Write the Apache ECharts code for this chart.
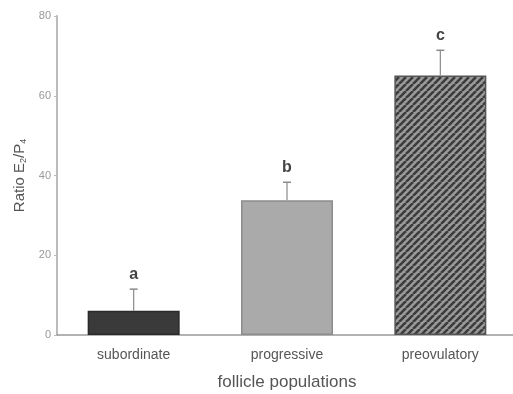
<!DOCTYPE html>
<html><head><meta charset="utf-8">
<script src="https://cdn.jsdelivr.net/npm/echarts@6/dist/echarts.min.js"></script>
<style>html,body{margin:0;padding:0;background:#fff}#c{width:513px;height:394px}</style>
</head><body><div id="c"></div>
<script>
const categories = ['subordinate', 'progressive', 'preovulatory'];
const means = [6.1, 33.8, 65.1];
const errors = [5.4, 4.5, 6.3];
const letters = ['a', 'b', 'c'];
const yTicks = [0, 20, 40, 60, 80];

function hatch() {
  const s = 7;
  const cv = document.createElement('canvas');
  cv.width = s; cv.height = s;
  const g = cv.getContext('2d');
  g.fillStyle = '#9a9a9a';
  g.fillRect(0, 0, s, s);
  g.strokeStyle = '#3c3c3c';
  g.lineWidth = 2.6;
  g.beginPath();
  for (let k = -1; k <= 1; k++) {
    g.moveTo(k * s, s);
    g.lineTo(k * s + s, 0);
  }
  g.stroke();
  return cv;
}

const barColors = ['#3a3a3a', '#aaaaaa', { image: hatch(), repeat: 'repeat' }];
const borderColors = ['#2a2a2a', '#8c8c8c', '#555'];

const chart = echarts.init(document.getElementById('c'));
chart.setOption({
  animation: false,
  grid: { left: 57, top: 16, width: 460, height: 319, outerBoundsMode: 'none', containLabel: false },
  xAxis: {
    type: 'category', data: categories,
    axisLine: { lineStyle: { color: '#999', width: 1.5 } },
    axisTick: { alignWithLabel: true, length: 3, lineStyle: { color: '#bbb' } },
    axisLabel: { color: '#555', fontSize: 14, fontFamily: 'Liberation Sans', margin: 13 },
    name: 'follicle populations', nameLocation: 'middle', nameGap: 39,
    nameTextStyle: { color: '#555', fontSize: 17, fontFamily: 'Liberation Sans' }
  },
  yAxis: {
    type: 'value', min: yTicks[0], max: yTicks[yTicks.length - 1], interval: 20,
    splitLine: { show: false },
    axisLine: { show: true, lineStyle: { color: '#bbb', width: 2 } },
    axisTick: { show: true, length: 3, lineStyle: { color: '#bbb' } },
    axisLabel: { color: '#999', fontSize: 11, fontFamily: 'Liberation Sans', margin: 6 },
    name: '{n|Ratio E}{s|2}{n|/P}{s|4}', nameLocation: 'middle', nameGap: 29,
    nameTextStyle: {
      rich: {
        n: { fontSize: 15, color: '#555', fontFamily: 'Liberation Sans' },
        s: { fontSize: 9, color: '#555', fontFamily: 'Liberation Sans', verticalAlign: 'bottom', padding: [7, 0, 0, 0] }
      }
    }
  },
  series: [
    {
      type: 'bar', barWidth: 92,
      data: means.map((v, i) => ({
        value: v,
        itemStyle: { color: barColors[i], borderColor: borderColors[i], borderWidth: 1.5 }
      })),
      z: 2
    },
    {
      type: 'custom', z: 3,
      data: means.map((v, i) => [i, v, v + errors[i], letters[i]]),
      renderItem: function (params, api) {
        const base = api.coord([api.value(0), api.value(1)]);
        const top = api.coord([api.value(0), api.value(2)]);
        return {
          type: 'group',
          children: [
            { type: 'line', shape: { x1: base[0], y1: base[1], x2: top[0], y2: top[1] }, style: { stroke: '#8a8a8a', lineWidth: 1.2 } },
            { type: 'line', shape: { x1: top[0] - 4, y1: top[1], x2: top[0] + 4, y2: top[1] }, style: { stroke: '#8a8a8a', lineWidth: 1.5 } },
            { type: 'text', style: { text: letters[params.dataIndex], x: top[0], y: top[1] - 7, align: 'center', verticalAlign: 'bottom', fill: '#444', font: 'bold 16px Liberation Sans' } }
          ]
        };
      }
    }
  ]
});
</script></body></html>
